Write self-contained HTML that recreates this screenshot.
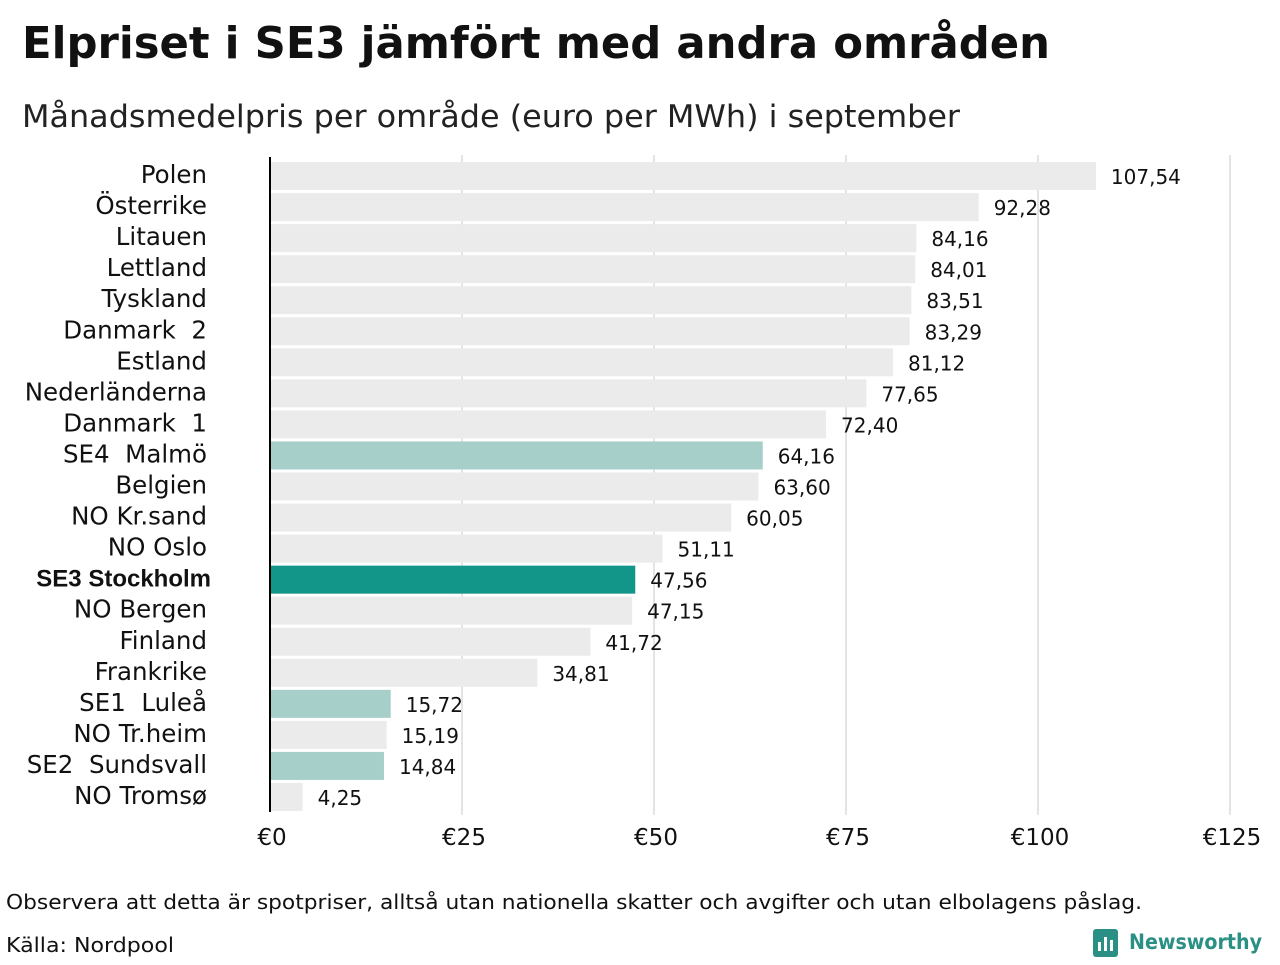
<!DOCTYPE html>
<html><head><meta charset="utf-8"><style>
body{margin:0;background:#fff;width:1280px;height:960px;overflow:hidden;}
svg text{font-family:"DejaVu Sans","Liberation Sans",sans-serif;white-space:pre;}
</style></head><body>
<svg width="1280" height="960">
<text x="22" y="58" font-size="44" font-weight="bold" fill="#111" textLength="1028" lengthAdjust="spacingAndGlyphs">Elpriset i SE3 jämfört med andra områden</text>
<text x="22" y="127" font-size="31" fill="#222" textLength="938" lengthAdjust="spacingAndGlyphs">Månadsmedelpris per område (euro per MWh) i september</text>
<g id="grid"></g><g id="bars"></g><g id="labels"></g>
<text x="6" y="909" font-size="20" fill="#111" textLength="1136" lengthAdjust="spacingAndGlyphs">Observera att detta är spotpriser, alltså utan nationella skatter och avgifter och utan elbolagens påslag.</text>
<text x="6" y="952" font-size="20" fill="#111" textLength="168" lengthAdjust="spacingAndGlyphs">Källa: Nordpool</text>
<g>
<rect x="1093" y="929" width="25" height="28" rx="3" fill="#2a8f84"/>
<rect x="1098" y="942" width="3" height="9" fill="#fff"/><rect x="1104" y="937" width="3" height="14" fill="#fff"/><rect x="1110" y="940" width="3" height="11" fill="#fff"/>
<text x="1129" y="949" font-size="21" font-weight="bold" fill="#2a8f84" textLength="133" lengthAdjust="spacingAndGlyphs">Newsworthy</text>
</g>
</svg>
<script>
const categories=["Polen","Österrike","Litauen","Lettland","Tyskland","Danmark  2","Estland","Nederländerna","Danmark  1","SE4  Malmö","Belgien","NO Kr.sand","NO Oslo","SE3 Stockholm","NO Bergen","Finland","Frankrike","SE1  Luleå","NO Tr.heim","SE2  Sundsvall","NO Tromsø"];
const values=[107.54,92.28,84.16,84.01,83.51,83.29,81.12,77.65,72.40,64.16,63.60,60.05,51.11,47.56,47.15,41.72,34.81,15.72,15.19,14.84,4.25];
const highlight=["","","","","","","","","","light","","","","dark","","","","light","","light",""];
const ticks=[0,25,50,75,100,125];
const NS="http://www.w3.org/2000/svg";
const x=v=>270+v*7.68;
const y=i=>162+i*31.05;
function mk(t,a,p){const e=document.createElementNS(NS,t);for(const k in a)e.setAttribute(k,a[k]);p.appendChild(e);return e;}
const grid=document.getElementById('grid'),bars=document.getElementById('bars'),labels=document.getElementById('labels');
ticks.forEach(t=>{
 if(t>0){const l=mk('line',{x1:x(t),x2:x(t),y1:155,y2:815,stroke:'#c8c8d0','stroke-width':1},grid);
 
 }
 const tx=mk('text',{x:x(t)+2,y:845,'font-size':23,'text-anchor':'middle',fill:'#111'},grid);
 tx.textContent='€'+t;
 
 
});
const cols={"":"#ebebeb",light:"#a6cfc9",dark:"#12968a"};
categories.forEach((c,i)=>{
 const r=mk('rect',{x:x(0),y:y(i),width:x(values[i])-x(0),height:28,fill:cols[highlight[i]]},bars);
 
 
 const v=mk('text',{x:x(values[i])+15,y:y(i)+22,'font-size':20,fill:'#111'},labels);
 v.textContent=values[i].toFixed(2).replace('.',',');
 
 
 const dark=highlight[i]==='dark';
 const t=mk('text',{x:dark?211:207,y:y(i)+21,'font-size':dark?24:24.5,'text-anchor':'end',fill:'#111','font-weight':dark?'bold':'normal',style:'font-family:'+(dark?'"Liberation Sans",sans-serif':'"DejaVu Sans",sans-serif')},labels);
 t.textContent=c;
 
 
});
const ax=mk('line',{x1:270,x2:270,y1:157,y2:812,stroke:'#000','stroke-width':2},labels);


</script>
</body></html>
